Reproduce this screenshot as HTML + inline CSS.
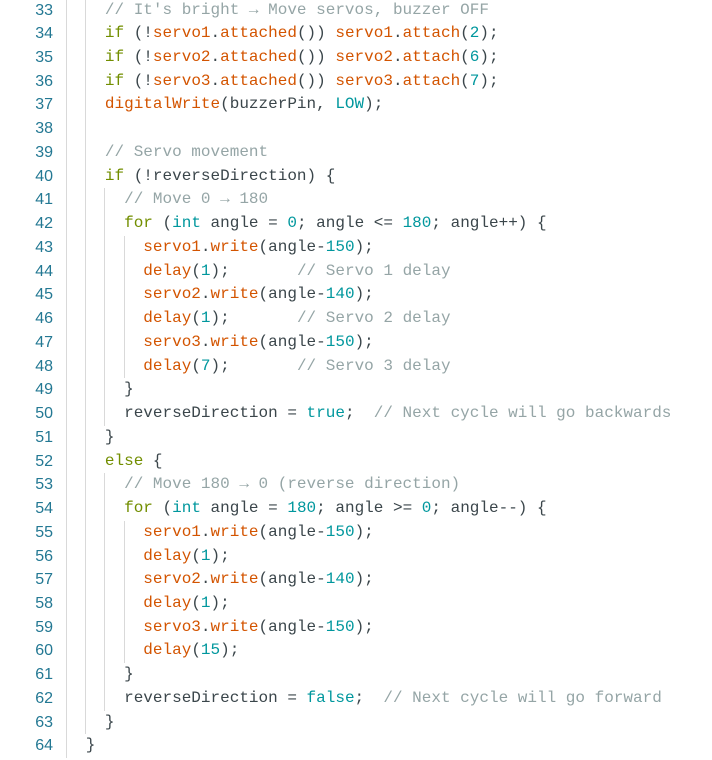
<!DOCTYPE html><html><head><meta charset="utf-8"><style>
body{margin:0;background:#fff;width:712px;height:760px;overflow:hidden;position:relative;font-family:"Liberation Mono","DejaVu Sans Mono",monospace;font-size:16px;color:#3b464b}
.l{position:absolute;left:66.5px;white-space:pre;height:23.74px;line-height:23.74px;right:0}
.n{position:absolute;left:0;width:53px;text-align:right;color:#237893;line-height:23.74px;font-family:"Liberation Sans",sans-serif;font-size:16px}
.c{color:#95a5a6}.k{color:#728e00}.f{color:#d35400}.t{color:#00979d}
.g{position:absolute;width:1px;background:#d9d9d9}
</style></head><body>
<div id="root"></div>
<script>
var L=[
[2,'<span class="c">// It\'s bright → Move servos, buzzer OFF</span>'],
[2,'<span class="k">if</span> (!<span class="f">servo1</span>.<span class="f">attached</span>()) <span class="f">servo1</span>.<span class="f">attach</span>(<span class="t">2</span>);'],
[2,'<span class="k">if</span> (!<span class="f">servo2</span>.<span class="f">attached</span>()) <span class="f">servo2</span>.<span class="f">attach</span>(<span class="t">6</span>);'],
[2,'<span class="k">if</span> (!<span class="f">servo3</span>.<span class="f">attached</span>()) <span class="f">servo3</span>.<span class="f">attach</span>(<span class="t">7</span>);'],
[2,'<span class="f">digitalWrite</span>(buzzerPin, <span class="t">LOW</span>);'],
[2,''],
[2,'<span class="c">// Servo movement</span>'],
[2,'<span class="k">if</span> (!reverseDirection) {'],
[3,'<span class="c">// Move 0 → 180</span>'],
[3,'<span class="k">for</span> (<span class="t">int</span> angle = <span class="t">0</span>; angle &lt;= <span class="t">180</span>; angle++) {'],
[4,'<span class="f">servo1</span>.<span class="f">write</span>(angle-<span class="t">150</span>);'],
[4,'<span class="f">delay</span>(<span class="t">1</span>);       <span class="c">// Servo 1 delay</span>'],
[4,'<span class="f">servo2</span>.<span class="f">write</span>(angle-<span class="t">140</span>);'],
[4,'<span class="f">delay</span>(<span class="t">1</span>);       <span class="c">// Servo 2 delay</span>'],
[4,'<span class="f">servo3</span>.<span class="f">write</span>(angle-<span class="t">150</span>);'],
[4,'<span class="f">delay</span>(<span class="t">7</span>);       <span class="c">// Servo 3 delay</span>'],
[3,'}'],
[3,'reverseDirection = <span class="t">true</span>;  <span class="c">// Next cycle will go backwards</span>'],
[2,'}'],
[2,'<span class="k">else</span> {'],
[3,'<span class="c">// Move 180 → 0 (reverse direction)</span>'],
[3,'<span class="k">for</span> (<span class="t">int</span> angle = <span class="t">180</span>; angle &gt;= <span class="t">0</span>; angle--) {'],
[4,'<span class="f">servo1</span>.<span class="f">write</span>(angle-<span class="t">150</span>);'],
[4,'<span class="f">delay</span>(<span class="t">1</span>);'],
[4,'<span class="f">servo2</span>.<span class="f">write</span>(angle-<span class="t">140</span>);'],
[4,'<span class="f">delay</span>(<span class="t">1</span>);'],
[4,'<span class="f">servo3</span>.<span class="f">write</span>(angle-<span class="t">150</span>);'],
[4,'<span class="f">delay</span>(<span class="t">15</span>);'],
[3,'}'],
[3,'reverseDirection = <span class="t">false</span>;  <span class="c">// Next cycle will go forward</span>'],
[2,'}'],
[1,'}']];
var h='',LH=23.74,T=-1.5,CW=9.6;
L.forEach(function(a,i){var y=T+i*LH;
h+='<div class="n" style="top:'+y+'px">'+(33+i)+'</div>';
for(var k=0;k<a[0];k++)h+='<div class="g" style="left:'+(66+2*CW*k)+'px;top:'+y+'px;height:'+LH+'px"></div>';
h+='<div class="l" style="top:'+y+'px;left:'+(66.5+2*CW*a[0])+'px">'+a[1]+'</div>';});
document.getElementById('root').innerHTML=h;
</script></body></html>
